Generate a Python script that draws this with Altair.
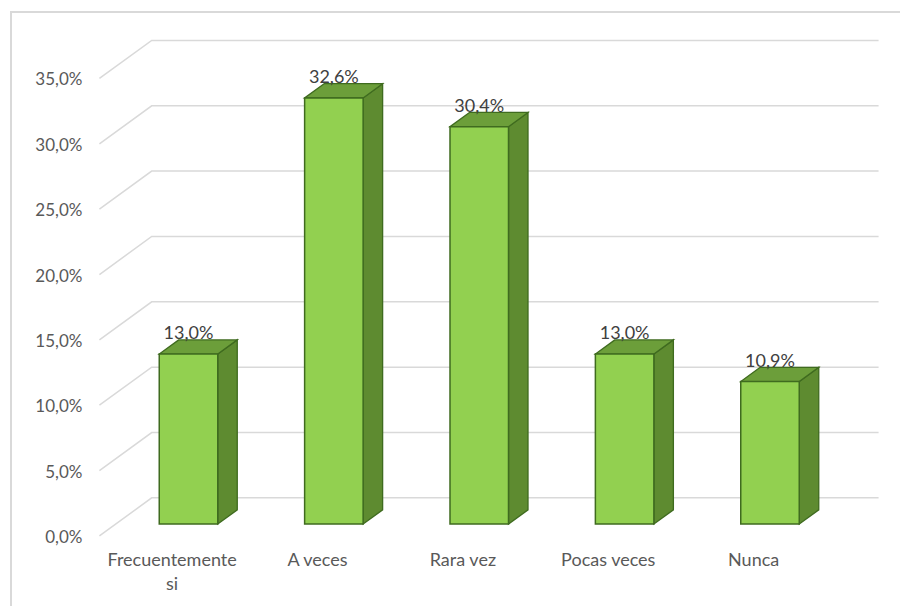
import altair as alt
import pandas as pd

# ---- data ----
categories = ["Frecuentemente\nsi", "A veces", "Rara vez", "Pocas veces", "Nunca"]
values = [13.0, 32.6, 30.4, 13.0, 10.9]
tick_values = [0, 5, 10, 15, 20, 25, 30, 35]


def pct(v):
    return f"{v:.1f}".replace(".", ",") + "%"


# ---- geometry of the pseudo-3D view ----
W, H = 900, 606
PX_X, X0 = 145.375, 188.5      # pixels per category, pixel of first category
PX_Y, Y0 = 13.07, 524.0        # pixels per percent, pixel of 0% on bar front plane
DXU = 19.5 / PX_X              # depth shift (one bar depth) in x units
DYU = 14.2 / PX_Y              # depth shift in y units
ZF, ZB = -0.84, 1.84           # floor front edge / back wall, in bar depths
HALF = 29.25 / PX_X            # half bar width
XL, XR = -0.5, len(categories) - 0.5

xscale = alt.Scale(domain=[-X0 / PX_X, (W - X0) / PX_X], nice=False, zero=False)
yscale = alt.Scale(domain=[-(H - Y0) / PX_Y, Y0 / PX_Y], nice=False, zero=False)

grid_rows = []
for t in tick_values:
    grid_rows += [
        {"x": XL + ZF * DXU, "y": t + ZF * DYU, "t": t, "o": 0},
        {"x": XL + ZB * DXU, "y": t + ZB * DYU, "t": t, "o": 1},
        {"x": XR + ZB * DXU, "y": t + ZB * DYU, "t": t, "o": 2},
    ]
grid_df = pd.DataFrame(grid_rows)

side_rows, top_rows, front_rows = [], [], []
for i, v in enumerate(values):
    side_rows += [
        {"x": i + HALF, "y": v, "y2": 0, "bar": i},
        {"x": i + HALF + DXU, "y": v + DYU, "y2": DYU, "bar": i},
    ]
    top_rows += [
        {"y": v, "x": i - HALF, "x2": i + HALF, "bar": i},
        {"y": v + DYU, "x": i - HALF + DXU, "x2": i + HALF + DXU, "bar": i},
    ]
    front_rows.append({"x": i - HALF, "x2": i + HALF, "y": 0, "y2": v,
                       "cat": categories[i], "label": pct(v), "xc": i})
side_df = pd.DataFrame(side_rows)
top_df = pd.DataFrame(top_rows)
front_df = pd.DataFrame(front_rows)

tick_df = pd.DataFrame({"x": [XL + ZF * DXU] * len(tick_values),
                        "y": [t + ZF * DYU for t in tick_values],
                        "label": [pct(t) for t in tick_values]})
cat_df = pd.DataFrame({"x": [i + ZF * DXU for i in range(len(categories))],
                       "y": [ZF * DYU] * len(categories),
                       "cat": categories})

GRID = "#D9D9D9"
FRONT = "#92D050"
SIDE = "#5E8B30"
TOP = "#6C9E3A"
EDGE = "#3F6B1F"
FONT = "Lato"

X = lambda f="x": alt.X(f"{f}:Q", scale=xscale, axis=None)
Y = lambda f="y": alt.Y(f"{f}:Q", scale=yscale, axis=None)

border_left = alt.Chart(pd.DataFrame({"a": [0]})).mark_rule(color=GRID, strokeWidth=2).encode(
    x=alt.value(11), y=alt.value(12), y2=alt.value(H))
border_top = alt.Chart(pd.DataFrame({"a": [0]})).mark_rule(color=GRID, strokeWidth=2).encode(
    y=alt.value(12), x=alt.value(10), x2=alt.value(W))

grid = alt.Chart(grid_df).mark_line(color=GRID, strokeWidth=1.5).encode(
    x=X(), y=Y(), detail="t:N", order="o:Q")

side = alt.Chart(side_df).mark_area(fill=SIDE, stroke=EDGE, strokeWidth=1.3, opacity=1).encode(
    x=X(), y=Y(), y2="y2:Q", detail="bar:N")

top = alt.Chart(top_df).mark_area(orient="horizontal", fill=TOP, stroke=EDGE,
                                  strokeWidth=1.3, opacity=1).encode(
    y=Y(), x=X(), x2="x2:Q", detail="bar:N")

front = alt.Chart(front_df).mark_rect(fill=FRONT, stroke=EDGE, strokeWidth=1.5).encode(
    x=X(), x2="x2:Q", y=Y(), y2="y2:Q")

data_labels = alt.Chart(front_df).mark_text(
    font=FONT, fontSize=18, color="#404040", baseline="middle", dy=-20).encode(
    x=X("xc"), y=Y("y2"), text="label:N")

tick_labels = alt.Chart(tick_df).mark_text(
    font=FONT, fontSize=17, color="#595959", align="right", baseline="middle", dx=-17, dy=2).encode(
    x=X(), y=Y(), text="label:N")

cat_labels = alt.Chart(cat_df).mark_text(
    font=FONT, fontSize=18, color="#595959", align="center", baseline="top",
    dy=16, lineBreak="\n", lineHeight=24).encode(
    x=X(), y=Y(), text="cat:N")

chart = alt.layer(
    border_left, border_top, grid, side, top, front, data_labels, tick_labels, cat_labels
).properties(
    width=W, height=H, autosize=alt.AutoSizeParams(type="none"), padding=0,
    background="white"
).configure_view(stroke=None)

chart.save("out.html", embed_options={"renderer": "svg", "actions": False})
